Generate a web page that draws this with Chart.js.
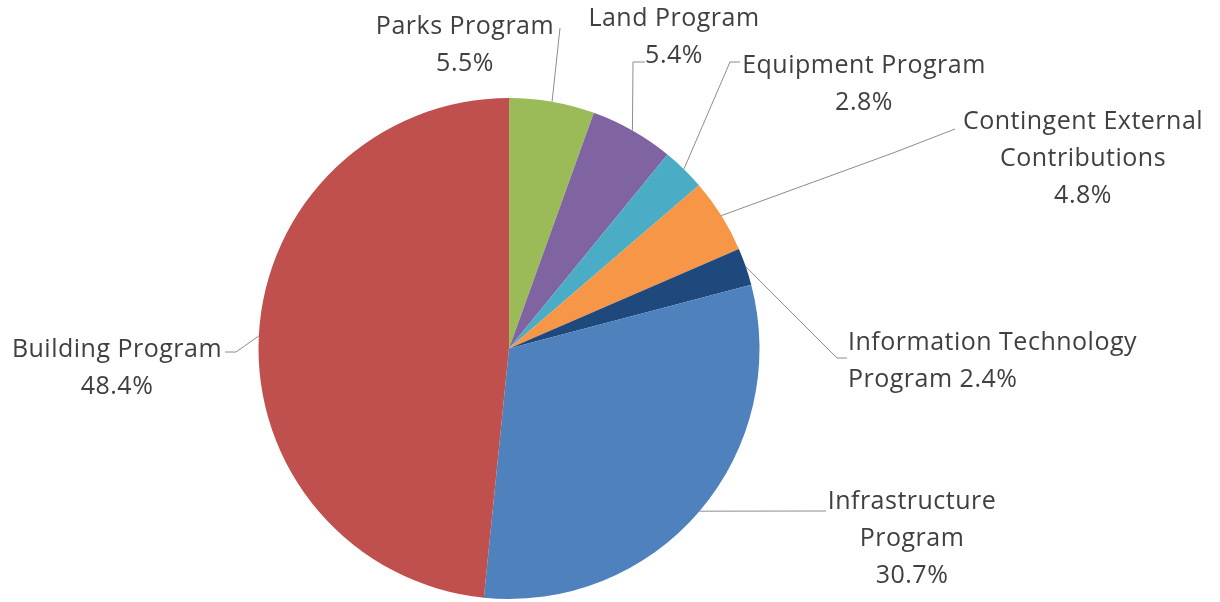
<!DOCTYPE html>
<html>
<head>
<meta charset="utf-8">
<script src="https://cdn.jsdelivr.net/npm/chart.js@4"></script>
<style>
html,body{margin:0;padding:0;background:#fff;}
#wrap{width:1220px;height:602px;position:relative;}
</style>
</head>
<body>
<div id="wrap"><canvas id="c" width="1220" height="602"></canvas></div>
<script>
// ---- data ----
const categories = ["Parks Program", "Land Program", "Equipment Program", "Contingent External Contributions", "Information Technology Program", "Infrastructure Program", "Building Program"];
const shares = [5.5, 5.4, 2.8, 4.8, 2.4, 30.7, 48.4];
const colors = ["#9BBB59", "#8064A2", "#4BACC6", "#F79646", "#1F497D", "#4F81BD", "#C0504D"];

// ---- label layout (positions only) ----
// words: words per line of the category name; pctInline: append value to last name line
const labelLayout = [
  {words:[2], pctInline:false, x:465, y:27, align:'center', elbow:null, end:[560,28]},
  {words:[2], pctInline:false, x:674, y:19, align:'center', elbow:[633,62], end:[645,62]},
  {words:[2], pctInline:false, x:864, y:66, align:'center', elbow:[730,62], end:[740,62]},
  {words:[2,1], pctInline:false, x:1083, y:122, align:'center', elbow:[893,153], end:[955,129]},
  {words:[2,1], pctInline:true, x:848, y:343, align:'left', elbow:[837,358], end:[847,358]},
  {words:[1,1], pctInline:false, x:912, y:502, align:'center', elbow:null, end:[826,511]},
  {words:[2], pctInline:false, x:117, y:350, align:'center', elbow:[236,352], end:[225,352]}
];
const LINE_H = 37;
const FONT = '25px "Open Sans", Lato, sans-serif';

function buildLines(name, value, cfg){
  const w = name.split(' ');
  const lines = [];
  let k = 0;
  cfg.words.forEach(n => { lines.push(w.slice(k, k+n).join(' ')); k += n; });
  const pct = value.toFixed(1) + '%';
  if (cfg.pctInline) lines[lines.length-1] += ' ' + pct; else lines.push(pct);
  return lines;
}

const labelPlugin = {
  id: 'outLabels',
  afterDatasetsDraw(chart){
    const ctx = chart.ctx;
    const meta = chart.getDatasetMeta(0);
    const data = chart.data.datasets[0].data;
    ctx.save();
    meta.data.forEach((arc, i) => {
      const cfg = labelLayout[i];
      const p = arc.getProps(['x','y','startAngle','endAngle','outerRadius'], true);
      const mid = (p.startAngle + p.endAngle) / 2;
      const sx = p.x + Math.cos(mid) * p.outerRadius;
      const sy = p.y + Math.sin(mid) * p.outerRadius;
      ctx.strokeStyle = '#8C8C8C';
      ctx.lineWidth = 1;
      ctx.beginPath();
      ctx.moveTo(sx, sy);
      if (cfg.elbow) ctx.lineTo(cfg.elbow[0], cfg.elbow[1]);
      ctx.lineTo(cfg.end[0], cfg.end[1]);
      ctx.stroke();
      const lines = buildLines(chart.data.labels[i], data[i], cfg);
      ctx.fillStyle = '#404040';
      ctx.font = FONT;
      ctx.letterSpacing = '0.5px';
      ctx.textAlign = cfg.align;
      ctx.textBaseline = 'middle';
      lines.forEach((t, j) => ctx.fillText(t, cfg.x, cfg.y + j * LINE_H));
    });
    ctx.restore();
  }
};

new Chart(document.getElementById('c'), {
  type: 'pie',
  data: {
    labels: categories,
    datasets: [{ data: shares, backgroundColor: colors, borderWidth: 0 }]
  },
  options: {
    responsive: false,
    animation: false,
    devicePixelRatio: 1,
    layout: { padding: { left: 0, right: 202, top: 98, bottom: 3 } },
    plugins: { legend: { display: false }, tooltip: { enabled: false } }
  },
  plugins: [labelPlugin]
});
</script>
</body>
</html>
